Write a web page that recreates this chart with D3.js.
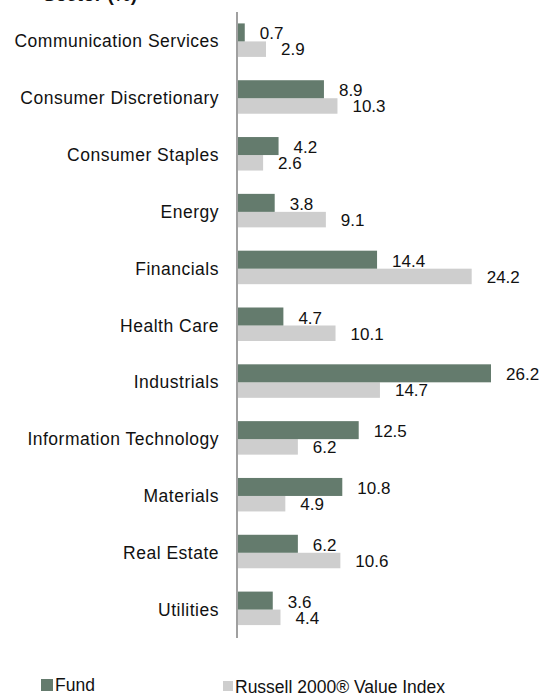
<!DOCTYPE html>
<html>
  <head>
    <meta charset="utf-8">
    <title>Sector (%)</title>
    <script src="https://cdn.jsdelivr.net/npm/d3@7"></script>
    <style>
      body { margin: 0; background: #fff; }
      text { font-family: "Liberation Sans", Arial, Helvetica, sans-serif; fill: #111; }
    </style>
  </head>
  <body>
    <svg id="container" width="540" height="694"></svg>
  </body>
  <script>
    const sectors = ["Communication Services", "Consumer Discretionary", "Consumer Staples", "Energy",
      "Financials", "Health Care", "Industrials", "Information Technology", "Materials", "Real Estate", "Utilities"];
    const fundValues = [0.7, 8.9, 4.2, 3.8, 14.4, 4.7, 26.2, 12.5, 10.8, 6.2, 3.6];
    const indexValues = [2.9, 10.3, 2.6, 9.1, 24.2, 10.1, 14.7, 6.2, 4.9, 10.6, 4.4];
    const seriesNames = ["Fund", "Russell 2000\u00AE Value Index"];

    const fundColor = "#647b6d";
    const indexColor = "#cecece";

    const svg = d3.select("#container");

    // x: bar length, y: one band per sector
    const x = d3.scaleLinear().domain([0, 26.2]).range([238, 491]);
    const y = d3.scaleBand().domain(sectors).range([13, 638]);

    // title, mostly cropped off the top
    svg.append("text")
      .attr("x", 137).attr("y", 1)
      .attr("text-anchor", "end")
      .style("font-weight", "bold")
      .style("font-size", "19px")
      .text("Sector (%)");

    const rows = svg.selectAll(".row")
      .data(sectors.map((s, i) => ({ sector: s, fund: fundValues[i], index: indexValues[i] })))
      .join("g")
      .attr("class", "row")
      .attr("transform", d => `translate(0,${y(d.sector) + y.bandwidth() / 2})`);

    rows.append("rect")
      .attr("x", x(0)).attr("y", 0)
      .attr("width", d => x(d.index) - x(0))
      .attr("height", 15.5)
      .attr("fill", indexColor);

    rows.append("rect")
      .attr("x", x(0)).attr("y", -18)
      .attr("width", d => x(d.fund) - x(0))
      .attr("height", 18)
      .attr("fill", fundColor);

    rows.append("text")
      .attr("x", d => x(d.fund) + 15).attr("y", -2)
      .style("font-size", "17px")
      .text(d => d.fund.toFixed(1));

    rows.append("text")
      .attr("x", d => x(d.index) + 15).attr("y", 14)
      .style("font-size", "17px")
      .text(d => d.index.toFixed(1));

    rows.append("text")
      .attr("x", 219).attr("y", 6)
      .attr("text-anchor", "end")
      .style("font-size", "17.5px")
      .style("letter-spacing", "0.5px")
      .text(d => d.sector);

    // vertical axis line
    svg.append("line")
      .attr("x1", 237).attr("x2", 237)
      .attr("y1", y.range()[0] - 1).attr("y2", y.range()[1])
      .attr("stroke", "#a0a0a0")
      .attr("stroke-width", 2);

    // legend
    const legend = [
      { name: seriesNames[0], color: fundColor, x: 41, y: 679, size: 12, ty: 691 },
      { name: seriesNames[1], color: indexColor, x: 223, y: 681, size: 10, ty: 693 }
    ];
    const lg = svg.selectAll(".legend").data(legend).join("g").attr("class", "legend");
    lg.append("rect")
      .attr("x", d => d.x).attr("y", d => d.y)
      .attr("width", d => d.size).attr("height", d => d.size)
      .attr("fill", d => d.color);
    lg.append("text")
      .attr("x", d => d.x + d.size + 2).attr("y", d => d.ty)
      .style("font-size", "17.5px")
      .text(d => d.name);
  </script>
</html>
